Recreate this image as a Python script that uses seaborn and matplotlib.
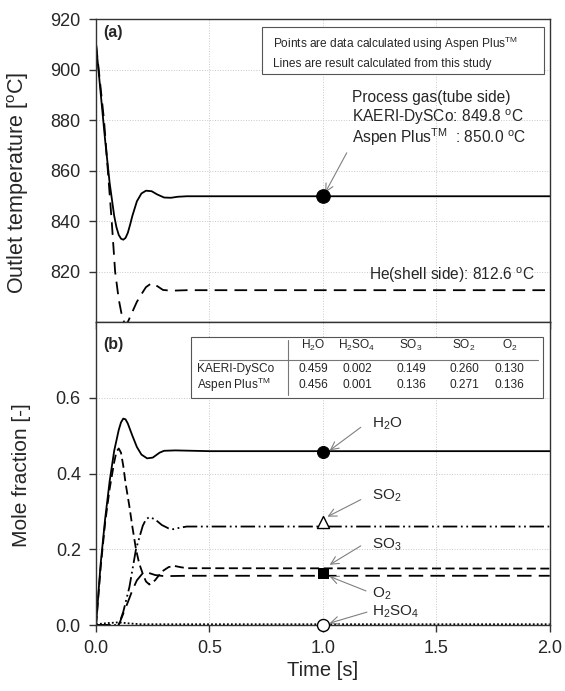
import matplotlib
matplotlib.use("Agg")
import matplotlib.pyplot as plt
import matplotlib.patches as mpatches
import seaborn as sns

# ---- data ----
# (a) outlet temperatures
t_gas = [0.0, 0.02, 0.04, 0.06, 0.08, 0.09, 0.10, 0.11, 0.12, 0.13, 0.14, 0.15, 0.16,
         0.18, 0.20, 0.22, 0.245, 0.27, 0.30, 0.33, 0.36, 0.40, 2.0]
T_gas = [910.0, 891.0, 872.0, 855.0, 842.0, 837.5, 834.5, 833.0, 832.6, 833.3, 835.3,
         838.5, 842.0, 847.8, 850.9, 852.0, 851.8, 850.5, 849.3, 849.2, 849.6, 849.8, 849.8]

t_he = [0.0, 0.035, 0.069, 0.084, 0.10, 0.115, 0.128, 0.14, 0.16, 0.18, 0.20, 0.22,
        0.245, 0.27, 0.295, 0.33, 0.40, 2.0]
T_he = [910.0, 880.0, 840.0, 820.0, 809.0, 802.0, 799.0, 800.0, 804.0, 808.0, 811.0, 813.8,
        815.4, 814.2, 812.7, 812.4, 812.6, 812.6]

aspen_T_gas = 850.0

# (b) mole fractions
t_h2o = [0.0, 0.02, 0.04, 0.06, 0.08, 0.10, 0.11, 0.12, 0.13, 0.14, 0.16, 0.18, 0.20,
         0.225, 0.25, 0.28, 0.30, 0.35, 0.50, 2.0]
x_h2o = [0.0, 0.16, 0.28, 0.38, 0.46, 0.515, 0.535, 0.545, 0.543, 0.532, 0.50, 0.47, 0.45,
         0.44, 0.442, 0.455, 0.46, 0.461, 0.459, 0.459]

t_so3 = [0.0, 0.02, 0.04, 0.06, 0.08, 0.09, 0.10, 0.11, 0.12, 0.13, 0.147, 0.16, 0.176,
         0.19, 0.206, 0.22, 0.235, 0.26, 0.29, 0.32, 0.345, 0.37, 0.40, 2.0]
x_so3 = [0.0, 0.15, 0.27, 0.36, 0.43, 0.458, 0.466, 0.455, 0.42, 0.375, 0.313, 0.26, 0.20,
         0.163, 0.135, 0.115, 0.107, 0.118, 0.141, 0.153, 0.156, 0.153, 0.150, 0.149]

t_so2 = [0.0, 0.10, 0.12, 0.147, 0.176, 0.206, 0.22, 0.235, 0.26, 0.29, 0.32, 0.34, 0.37,
         0.40, 2.0]
x_so2 = [0.0, 0.0, 0.035, 0.10, 0.20, 0.262, 0.279, 0.285, 0.279, 0.264, 0.255, 0.253,
         0.257, 0.26, 0.26]

t_o2 = [0.0, 0.10, 0.12, 0.14, 0.161, 0.18, 0.206, 0.23, 0.26, 0.30, 0.40, 2.0]
x_o2 = [0.0, 0.0, 0.03, 0.06, 0.093, 0.118, 0.137, 0.138, 0.132, 0.129, 0.130, 0.130]

t_h2so4 = [0.0, 0.05, 0.10, 0.15, 0.20, 2.0]
x_h2so4 = [0.002, 0.005, 0.007, 0.004, 0.002, 0.002]

species = ["H$_2$O", "H$_2$SO$_4$", "SO$_3$", "SO$_2$", "O$_2$"]
kaeri_vals = ["0.459", "0.002", "0.149", "0.260", "0.130"]
aspen_vals = ["0.456", "0.001", "0.136", "0.271", "0.136"]
aspen_x = [0.456, 0.001, 0.136, 0.271, 0.136]

t_check = 1.0

# ---- style ----
sns.set_theme(style="ticks")
plt.rcParams['font.family'] = ['Liberation Sans', 'DejaVu Sans']
plt.rcParams['mathtext.fontset'] = 'custom'
plt.rcParams['mathtext.rm'] = 'Liberation Sans'
plt.rcParams['mathtext.it'] = 'Liberation Sans'
plt.rcParams['mathtext.default'] = 'regular'

fig, (ax1, ax2) = plt.subplots(2, 1, figsize=(5.65, 6.91), dpi=100, sharex=True)
fig.subplots_adjust(left=0.170, right=0.973, top=0.9725, bottom=0.0955, hspace=0)

arrow = dict(arrowstyle='->', color='#808080', lw=0.8, shrinkA=0, shrinkB=0,
             mutation_scale=14)
lw = 1.3

for ax in (ax1, ax2):
    ax.grid(True, color='#c8c8c8', linestyle=':', linewidth=0.7)
    for sp in ax.spines.values():
        sp.set_color('#333333')
        sp.set_linewidth(1.0)
    ax.tick_params(direction='out', length=5, width=1.0, color='#333333',
                   labelsize=13, pad=6)

# ---- (a) ----
sns.lineplot(x=t_gas, y=T_gas, ax=ax1, color='black', lw=lw)
sns.lineplot(x=t_he, y=T_he, ax=ax1, color='black', lw=lw, linestyle=(0, (7, 4)))
sns.scatterplot(x=[t_check], y=[aspen_T_gas], ax=ax1, color='black', s=95,
                edgecolor='black', zorder=5)

ax1.set_ylim(800, 920)
ax1.set_yticks([820, 840, 860, 880, 900, 920])
ax1.set_ylabel("Outlet temperature [$^{o}$C]", fontsize=15.5)
ax1.yaxis.set_label_coords(-0.143, 0.46)
ax1.text(0.015, 0.955, "(a)", transform=ax1.transAxes, fontsize=11.5,
         fontweight='bold', va='center', ha='left')

ax1.add_patch(mpatches.Rectangle((0.366, 0.818), 0.621, 0.156, transform=ax1.transAxes,
                                 fill=True, facecolor='white', edgecolor='#555555',
                                 lw=0.8, zorder=4))
ax1.text(0.389, 0.919, "Points are data calculated using Aspen Plus$^{TM}$",
         transform=ax1.transAxes, fontsize=8.6, va='center', ha='left', zorder=5)
ax1.text(0.389, 0.853, "Lines are result calculated from this study",
         transform=ax1.transAxes, fontsize=8.6, va='center', ha='left', zorder=5)

ax1.text(1.13, 889.1, "Process gas(tube side)", fontsize=11.2, va='center', ha='left')
ax1.text(1.13, 881.2, "KAERI-DySCo: 849.8 $^{o}$C", fontsize=11.2, va='center', ha='left')
ax1.text(1.13, 873.3, "Aspen Plus$^{TM}$  : 850.0 $^{o}$C", fontsize=11.2,
         va='center', ha='left')
ax1.annotate("", xy=(1.01, 851.2), xytext=(1.105, 867.0), arrowprops=arrow)
ax1.text(1.935, 818.5, "He(shell side): 812.6 $^{o}$C", fontsize=11.2,
         va='center', ha='right')

# ---- (b) ----
sns.lineplot(x=t_h2o, y=x_h2o, ax=ax2, color='black', lw=lw)
sns.lineplot(x=t_so3, y=x_so3, ax=ax2, color='black', lw=lw, linestyle=(0, (5, 2.5)))
sns.lineplot(x=t_so2, y=x_so2, ax=ax2, color='black', lw=lw,
             linestyle=(0, (8, 2, 1, 2, 1, 2)))
sns.lineplot(x=t_o2, y=x_o2, ax=ax2, color='black', lw=lw, linestyle=(0, (8, 4)))
sns.lineplot(x=t_h2so4, y=x_h2so4, ax=ax2, color='black', lw=lw, linestyle=(0, (1, 1.2)))

sns.scatterplot(x=[t_check], y=[aspen_x[0]], ax=ax2, marker='o', s=75,
                color='black', edgecolor='black', zorder=5)
sns.scatterplot(x=[t_check], y=[aspen_x[3]], ax=ax2, marker='^', s=75,
                facecolor='white', edgecolor='black', linewidth=1.0, zorder=5)
sns.scatterplot(x=[t_check], y=[aspen_x[4]], ax=ax2, marker='s', s=60,
                color='black', edgecolor='black', zorder=5)
sns.scatterplot(x=[t_check], y=[aspen_x[2]], ax=ax2, marker='s', s=60,
                color='black', edgecolor='black', zorder=5)
sns.scatterplot(x=[t_check], y=[aspen_x[1]], ax=ax2, marker='o', s=75,
                facecolor='white', edgecolor='black', linewidth=1.0, zorder=5,
                clip_on=False)

ax2.set_xlim(0, 2.0)
ax2.set_ylim(0, 0.8)
ax2.set_yticks([0.0, 0.2, 0.4, 0.6])
ax2.set_xticks([0.0, 0.5, 1.0, 1.5, 2.0])
ax2.set_yticklabels(["0.0", "0.2", "0.4", "0.6"])
ax2.set_xticklabels(["0.0", "0.5", "1.0", "1.5", "2.0"])
ax2.set_ylabel("Mole fraction [-]", fontsize=15)
ax2.yaxis.set_label_coords(-0.143, 0.495)
ax2.set_xlabel("Time [s]", fontsize=14.5, labelpad=3)
ax2.text(0.015, 0.925, "(b)", transform=ax2.transAxes, fontsize=11.5,
         fontweight='bold', va='center', ha='left')

# summary table
ax2.add_patch(mpatches.Rectangle((0.209, 0.749), 0.776, 0.201, transform=ax2.transAxes,
                                 fill=True, facecolor='white', edgecolor='#555555',
                                 lw=0.8, zorder=4))
ax2.plot([0.227, 0.974], [0.875, 0.875], transform=ax2.transAxes, color='#777777',
         lw=0.8, zorder=5)
ax2.plot([0.423, 0.423], [0.759, 0.941], transform=ax2.transAxes, color='#777777',
         lw=0.8, zorder=5)
col_x = [0.478, 0.575, 0.694, 0.811, 0.912]
for cx, name, kv, av in zip(col_x, species, kaeri_vals, aspen_vals):
    ax2.text(cx, 0.922, name, transform=ax2.transAxes, fontsize=8.6, ha='center',
             va='center', zorder=6)
    ax2.text(cx, 0.845, kv, transform=ax2.transAxes, fontsize=8.6, ha='center',
             va='center', zorder=6)
    ax2.text(cx, 0.792, av, transform=ax2.transAxes, fontsize=8.6, ha='center',
             va='center', zorder=6)
ax2.text(0.222, 0.845, "KAERI-DySCo", transform=ax2.transAxes, fontsize=8.6,
         ha='left', va='center', zorder=6)
ax2.text(0.222, 0.792, "Aspen Plus$^{TM}$", transform=ax2.transAxes, fontsize=8.6,
         ha='left', va='center', zorder=6)

# species call-outs
ax2.text(1.216, 0.532, "H$_2$O", fontsize=11, va='center', ha='left')
ax2.annotate("", xy=(1.03, 0.461), xytext=(1.167, 0.522), arrowprops=arrow)
ax2.text(1.216, 0.342, "SO$_2$", fontsize=11, va='center', ha='left')
ax2.annotate("", xy=(1.02, 0.286), xytext=(1.167, 0.331), arrowprops=arrow)
ax2.text(1.216, 0.212, "SO$_3$", fontsize=11, va='center', ha='left')
ax2.annotate("", xy=(1.03, 0.159), xytext=(1.167, 0.209), arrowprops=arrow)
ax2.text(1.216, 0.082, "O$_2$", fontsize=11, va='center', ha='left')
ax2.annotate("", xy=(1.03, 0.128), xytext=(1.19, 0.09), arrowprops=arrow)
ax2.text(1.216, 0.034, "H$_2$SO$_4$", fontsize=11, va='center', ha='left')
ax2.annotate("", xy=(1.03, 0.005), xytext=(1.194, 0.034), arrowprops=arrow)

fig.savefig("out.png", dpi=100)
